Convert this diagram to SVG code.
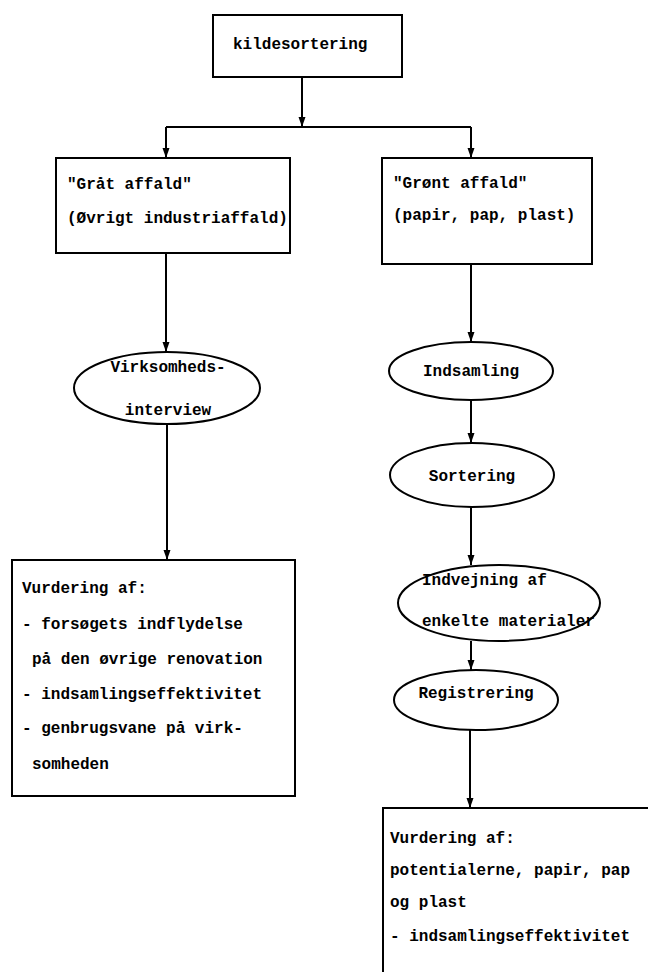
<svg xmlns="http://www.w3.org/2000/svg" width="648" height="972" viewBox="0 0 648 972">
  <defs>
    <style>
      .box { fill: #fff; stroke: #000; stroke-width: 2; }
      .ell { fill: #fff; stroke: #000; stroke-width: 2; }
      .t { font-family: "Liberation Mono", "DejaVu Sans Mono", monospace; font-size: 16px; font-weight: bold; fill: #000; }
      .c { text-anchor: middle; }
      .ln { fill: none; stroke: #000; stroke-width: 2; }
    </style>
    <marker id="arr" viewBox="0 -4 10 8" refX="10" refY="0" markerWidth="10" markerHeight="8" markerUnits="userSpaceOnUse" orient="auto">
      <path d="M0,-3.5 L10,0 L0,3.5 z" fill="#000"/>
    </marker>
  </defs>
  <rect width="648" height="972" fill="#fff"/>

  <g id="connectors">
    <line class="ln" x1="302" y1="77" x2="302" y2="127" marker-end="url(#arr)"/>
    <line class="ln" x1="166" y1="127" x2="471" y2="127"/>
    <line class="ln" x1="166" y1="127" x2="166" y2="158" marker-end="url(#arr)"/>
    <line class="ln" x1="471" y1="127" x2="471" y2="158" marker-end="url(#arr)"/>
    <line class="ln" x1="166" y1="253" x2="166" y2="352" marker-end="url(#arr)"/>
    <line class="ln" x1="167" y1="424" x2="167" y2="560" marker-end="url(#arr)"/>
    <line class="ln" x1="471" y1="264" x2="471" y2="342" marker-end="url(#arr)"/>
    <line class="ln" x1="471" y1="400" x2="471" y2="443" marker-end="url(#arr)"/>
    <line class="ln" x1="471" y1="507" x2="471" y2="565" marker-end="url(#arr)"/>
    <line class="ln" x1="471" y1="641" x2="471" y2="670" marker-end="url(#arr)"/>
    <line class="ln" x1="470" y1="730" x2="470" y2="808" marker-end="url(#arr)"/>
  </g>

  <g id="kildesortering">
    <rect class="box" x="213" y="15" width="189" height="62"/>
    <text class="t" x="233" y="49">kildesortering</text>
  </g>

  <g id="graat-affald">
    <rect class="box" x="56" y="158" width="234" height="95"/>
    <text class="t" x="67" y="189">"Gråt affald"</text>
    <text class="t" x="67" y="223">(Øvrigt industriaffald)</text>
  </g>

  <g id="groent-affald">
    <rect class="box" x="382" y="158" width="210" height="106"/>
    <text class="t" x="393" y="188">"Grønt affald"</text>
    <text class="t" x="393" y="220">(papir, pap, plast)</text>
  </g>

  <g id="virksomhedsinterview">
    <ellipse class="ell" cx="167" cy="388" rx="93" ry="36"/>
    <text class="t c" x="168" y="372">Virksomheds-</text>
    <text class="t c" x="168" y="415">interview</text>
  </g>

  <g id="indsamling">
    <ellipse class="ell" cx="471" cy="371" rx="82" ry="29"/>
    <text class="t c" x="471" y="376">Indsamling</text>
  </g>

  <g id="sortering">
    <ellipse class="ell" cx="472" cy="475" rx="82" ry="32"/>
    <text class="t c" x="472" y="481">Sortering</text>
  </g>

  <g id="indvejning">
    <ellipse class="ell" cx="499" cy="603" rx="101" ry="38"/>
    <text class="t" x="422" y="585">Indvejning af</text>
    <text class="t" x="422" y="626">enkelte materialer</text>
  </g>

  <g id="registrering">
    <ellipse class="ell" cx="476" cy="700" rx="82" ry="30"/>
    <text class="t c" x="476" y="698">Registrering</text>
  </g>

  <g id="vurdering-venstre">
    <rect class="box" x="12" y="560" width="283" height="236"/>
    <text class="t" x="22" y="593">Vurdering af:</text>
    <text class="t" x="22" y="629">- forsøgets indflydelse</text>
    <text class="t" x="32" y="664">på den øvrige renovation</text>
    <text class="t" x="22" y="699">- indsamlingseffektivitet</text>
    <text class="t" x="22" y="733">- genbrugsvane på virk-</text>
    <text class="t" x="32" y="769">somheden</text>
  </g>

  <g id="vurdering-hoejre">
    <rect class="box" x="383" y="808" width="300" height="200"/>
    <text class="t" x="390" y="843">Vurdering af:</text>
    <text class="t" x="390" y="875">potentialerne, papir, pap</text>
    <text class="t" x="390" y="907">og plast</text>
    <text class="t" x="390" y="941">- indsamlingseffektivitet</text>
  </g>
</svg>
